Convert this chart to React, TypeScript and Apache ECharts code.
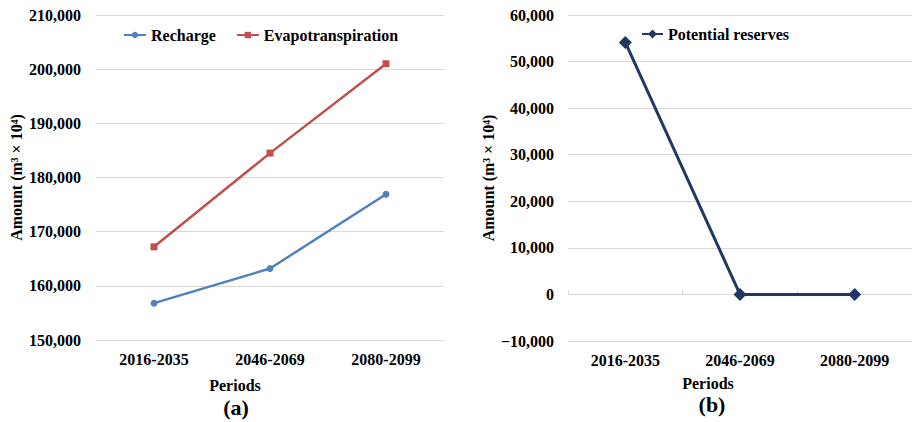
import React, { useEffect, useRef } from "react";
import * as echarts from "echarts";

const categories = ["2016-2035", "2046-2069", "2080-2099"];
const recharge = [156800, 163200, 176900];
const evapotranspiration = [167200, 184500, 201000];
const potentialReserves = [54100, 0, 0];
const yTicksA = { min: 150000, max: 210000, interval: 10000 };
const yTicksB = { min: -10000, max: 60000, interval: 10000 };

const FONT = "Liberation Serif";
const GRID = "#d9d9d9";
const TEXT = "#000000";

function fmt(v: number): string {
  const neg = v < 0;
  const s = Math.abs(v)
    .toFixed(0)
    .replace(/\B(?=(\d{3})+(?!\d))/g, ",");
  return neg ? "\u2212" + s : s;
}

export default function App() {
  const ref = useRef<HTMLDivElement>(null);
  useEffect(() => {
    if (!ref.current) return;
    const chart = echarts.init(ref.current, undefined, { renderer: "svg" });
    const labelStyle = {
      fontFamily: FONT,
      fontWeight: "bold" as const,
      fontSize: 16,
      color: TEXT,
    };
    const yName = "Amount (m\u00b3 \u00d7 10\u2074)";
    chart.setOption({
      animation: false,
      backgroundColor: "#ffffff",
      textStyle: { fontFamily: FONT },
      grid: [
        { left: 96, right: 468, top: 15, bottom: 82 },
        { left: 568, right: 0, top: 15, bottom: 81 },
      ],
      legend: [
        {
          data: ["Recharge", "Evapotranspiration"],
          left: 123,
          top: 27,
          padding: 0,
          itemWidth: 22,
          itemHeight: 8,
          itemGap: 20,
          textStyle: { ...labelStyle },
        },
        {
          data: ["Potential reserves"],
          left: 641,
          top: 26,
          padding: 0,
          itemWidth: 21,
          itemHeight: 11,
          textStyle: { ...labelStyle },
        },
      ],
      xAxis: [
        {
          type: "category",
          gridIndex: 0,
          data: categories,
          boundaryGap: true,
          axisLine: { show: false, onZero: false },
          axisTick: { show: false },
          axisLabel: { ...labelStyle, margin: 11 },
        },
        {
          type: "category",
          gridIndex: 1,
          data: categories,
          boundaryGap: true,
          axisLine: { show: false, onZero: false },
          axisTick: { show: false },
          axisLabel: { ...labelStyle, margin: 11 },
        },
        {
          type: "category",
          gridIndex: 1,
          data: categories,
          boundaryGap: true,
          position: "bottom",
          axisLine: { show: true, onZero: true, lineStyle: { color: GRID, width: 1 } },
          axisTick: { show: true, inside: true, length: 4, lineStyle: { color: GRID } },
          axisLabel: { show: false },
        },
      ],
      yAxis: [
        {
          type: "value",
          gridIndex: 0,
          ...yTicksA,
          axisLine: { show: false },
          axisTick: { show: false },
          splitLine: { show: true, lineStyle: { color: GRID, width: 1 } },
          axisLabel: { ...labelStyle, margin: 15, formatter: (v: number) => fmt(v) },
          name: yName,
          nameLocation: "middle",
          nameGap: 72,
          nameTextStyle: { ...labelStyle },
        },
        {
          type: "value",
          gridIndex: 1,
          ...yTicksB,
          axisLine: { show: false },
          axisTick: { show: false },
          splitLine: { show: true, lineStyle: { color: GRID, width: 1 } },
          axisLabel: { ...labelStyle, margin: 14, formatter: (v: number) => fmt(v) },
          name: yName,
          nameLocation: "middle",
          nameGap: 67,
          nameTextStyle: { ...labelStyle },
        },
      ],
      series: [
        {
          name: "Recharge",
          type: "line",
          xAxisIndex: 0,
          yAxisIndex: 0,
          data: recharge,
          symbol: "circle",
          symbolSize: 7,
          itemStyle: { color: "#4f81bd" },
          lineStyle: { color: "#4f81bd", width: 2.5 },
        },
        {
          name: "Evapotranspiration",
          type: "line",
          xAxisIndex: 0,
          yAxisIndex: 0,
          data: evapotranspiration,
          symbol: "rect",
          symbolSize: 7,
          itemStyle: { color: "#c0504d" },
          lineStyle: { color: "#c0504d", width: 2.5 },
        },
        {
          name: "Potential reserves",
          type: "line",
          xAxisIndex: 1,
          yAxisIndex: 1,
          data: potentialReserves,
          symbol: "diamond",
          symbolSize: 13,
          itemStyle: { color: "#1f3864" },
          lineStyle: { color: "#1f3864", width: 3 },
        },
      ],
      graphic: [
        {
          type: "text",
          x: 235,
          y: 385,
          style: {
            text: "Periods",
            fontFamily: FONT,
            fontWeight: "bold",
            fontSize: 16,
            fill: TEXT,
            align: "center",
            verticalAlign: "middle",
          },
        },
        {
          type: "text",
          x: 236,
          y: 407,
          style: {
            text: "(a)",
            fontFamily: FONT,
            fontWeight: "bold",
            fontSize: 22,
            fill: TEXT,
            align: "center",
            verticalAlign: "middle",
          },
        },
        {
          type: "text",
          x: 708,
          y: 383,
          style: {
            text: "Periods",
            fontFamily: FONT,
            fontWeight: "bold",
            fontSize: 16,
            fill: TEXT,
            align: "center",
            verticalAlign: "middle",
          },
        },
        {
          type: "text",
          x: 712,
          y: 404,
          style: {
            text: "(b)",
            fontFamily: FONT,
            fontWeight: "bold",
            fontSize: 22,
            fill: TEXT,
            align: "center",
            verticalAlign: "middle",
          },
        },
      ],
    });
    return () => chart.dispose();
  }, []);
  return (
    <div
      ref={ref}
      style={{ position: "fixed", left: 0, top: 0, width: 912, height: 422, background: "#fff" }}
    />
  );
}
